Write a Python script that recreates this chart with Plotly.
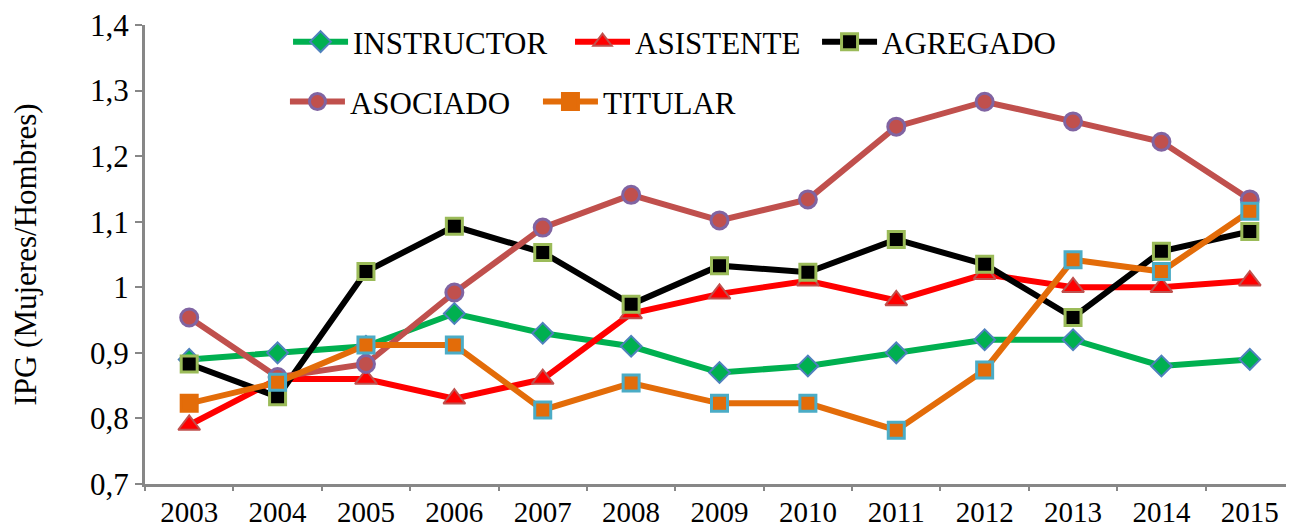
import plotly.graph_objects as go

years = [str(y) for y in range(2003, 2016)]
instructor = [0.89, 0.90, 0.91, 0.96, 0.93, 0.91, 0.87, 0.88, 0.90, 0.92, 0.92, 0.88, 0.89]
asistente = [0.79, 0.86, 0.86, 0.83, 0.86, 0.96, 0.99, 1.01, 0.98, 1.02, 1.00, 1.00, 1.01]
agregado = [0.883, 0.833, 1.024, 1.093, 1.053, 0.974, 1.033, 1.023, 1.073, 1.035, 0.954, 1.055, 1.085]
asociado = [0.954, 0.863, 0.883, 0.992, 1.091, 1.141, 1.102, 1.134, 1.245, 1.283, 1.253, 1.222, 1.134]
titular = [0.823, 0.855, 0.912, 0.912, 0.813, 0.854, 0.823, 0.823, 0.782, 0.874, 1.042, 1.024, 1.116]

FONT = "Liberation Serif"

series = [
    ("INSTRUCTOR", instructor, "#00B050", "diamond", "#00B050", "#4F81BD", 16, 2, "legend", 0.1245, 0.963),
    ("ASISTENTE", asistente, "#FF0000", "triangle-up", "#FF0000", "#C0504D", 19, 2, "legend2", 0.3699, 0.963),
    ("AGREGADO", agregado, "#000000", "square", "#000000", "#9BBB59", 16, 3, "legend3", 0.5849, 0.963),
    ("ASOCIADO", asociado, "#C0504D", "circle", "#C0504D", "#8064A2", 17, 3, "legend4", 0.1218, 0.8326),
    ("TITULAR", titular, "#E36C09", "square", "#E36C09", "#4BACC6", 16, 3, "legend5", 0.3420, 0.8326),
]

fig = go.Figure()
legends = {}
for name, vals, lc, sym, fill, edge, size, ew, lg, lx, ly in series:
    if name == "TITULAR":
        edges = ["#E36C09"] + [edge] * (len(vals) - 1)
    else:
        edges = edge
    fig.add_trace(go.Scatter(
        x=years, y=vals, name=name, mode="lines+markers",
        line=dict(color=lc, width=6),
        marker=dict(symbol=sym, color=fill, size=size, line=dict(color=edges, width=ew)),
        legend=lg,
    ))
    legends[lg] = dict(orientation="h", font=dict(family=FONT, size=31, color="#000"),
                       bgcolor="rgba(0,0,0,0)", itemwidth=55, xanchor="left", yanchor="middle",
                       itemsizing="trace", x=lx, y=ly)

fig.update_layout(
    width=1286, height=518,
    margin=dict(l=137, r=0, t=17, b=42),
    paper_bgcolor="white", plot_bgcolor="white",
    separators=", ",
    font=dict(family=FONT, size=31, color="#000"),
    showlegend=True,
    xaxis=dict(type="category", range=[-0.5, 12.5], automargin=False,
               showline=True, linecolor="#878787", linewidth=3,
               ticks="outside", tickson="boundaries", ticklen=4, tickcolor="#878787", tickwidth=2,
               ticklabeloverflow="allow",
               tickfont=dict(family=FONT, size=29), showgrid=False, zeroline=False),
    yaxis=dict(range=[0.7, 1.4], dtick=0.1, automargin=False,
               showline=True, linecolor="#878787", linewidth=3,
               ticks="outside", ticklen=7, tickcolor="#878787", tickwidth=2,
               ticklabeloverflow="allow",
               tickfont=dict(family=FONT, size=31), showgrid=False, zeroline=False,
               title=dict(text="IPG (Mujeres/Hombres)", font=dict(family=FONT, size=31), standoff=46)),
    **legends,
)

fig.write_html("out.html")
